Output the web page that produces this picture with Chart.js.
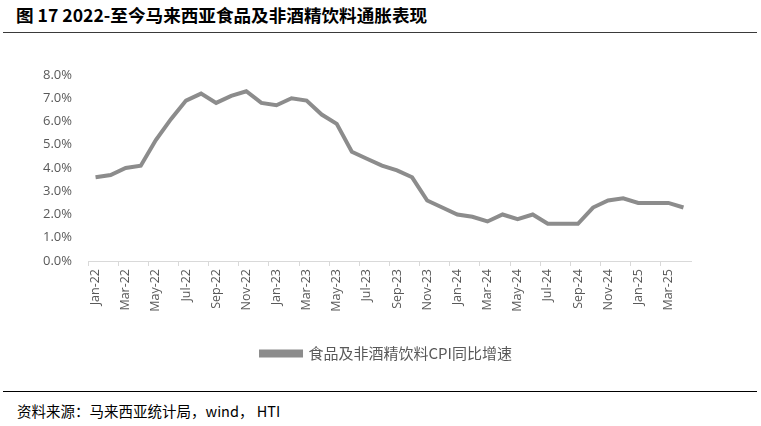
<!DOCTYPE html>
<html lang="zh">
<head>
<meta charset="UTF-8">
<title>图 17 马来西亚食品及非酒精饮料通胀表现</title>
<script src="https://cdn.jsdelivr.net/npm/chart.js"></script>
<style>
    body { margin: 0; background: #fff; width: 761px; height: 426px; overflow: hidden; position: relative; }
    .titulo { position: absolute; left: 16px; top: 2px; font: bold 17.6px "Noto Sans CJK SC", sans-serif; color: #000; }
    .linha-top { position: absolute; left: 3px; width: 754px; top: 32px; height: 0; border-top: 1.5px solid #3a3a3a; }
    .linha-bottom { position: absolute; left: 3px; width: 754px; top: 391px; height: 0; border-top: 1px solid #000; }
    .fonte { position: absolute; left: 17px; top: 400px; font: 14.5px "Noto Sans CJK SC", sans-serif; color: #000; }
    .grafico-box { position: absolute; left: 0; top: 40px; width: 761px; height: 340px; }
</style>
</head>
<body>
    <div class="titulo">图 17 2022-至今马来西亚食品及非酒精饮料通胀表现</div>
    <div class="linha-top"></div>
    <div class="grafico-box"><canvas id="grafico" width="761" height="340"></canvas></div>
    <div class="linha-bottom"></div>
    <div class="fonte">资料来源：马来西亚统计局，wind， HTI</div>
</body>
</html>
<script>
    // meses Jan-22 .. Apr-25
    const months = [
        "Jan-22", "Feb-22", "Mar-22", "Apr-22", "May-22", "Jun-22", "Jul-22", "Aug-22", "Sep-22", "Oct-22", "Nov-22", "Dec-22",
        "Jan-23", "Feb-23", "Mar-23", "Apr-23", "May-23", "Jun-23", "Jul-23", "Aug-23", "Sep-23", "Oct-23", "Nov-23", "Dec-23",
        "Jan-24", "Feb-24", "Mar-24", "Apr-24", "May-24", "Jun-24", "Jul-24", "Aug-24", "Sep-24", "Oct-24", "Nov-24", "Dec-24",
        "Jan-25", "Feb-25", "Mar-25", "Apr-25"
    ];
    const cpiFood = [
        3.6, 3.7, 4.0, 4.1, 5.2, 6.1, 6.9, 7.2, 6.8, 7.1, 7.3, 6.8,
        6.7, 7.0, 6.9, 6.3, 5.9, 4.7, 4.4, 4.1, 3.9, 3.6, 2.6, 2.3,
        2.0, 1.9, 1.7, 2.0, 1.8, 2.0, 1.6, 1.6, 1.6, 2.3, 2.6, 2.7,
        2.5, 2.5, 2.5, 2.3
    ];
    const serieNome = "食品及非酒精饮料CPI同比增速";
    const yMin = 0, yMax = 8, yStep = 1;

    const cinza = "#8c8c8c";
    const texto = "#595959";

    const ctx = document.getElementById("grafico").getContext("2d");

    // empurra a legenda p/ direita (no original ela fica centrada na pagina)
    const deslocaLegenda = {
        id: "deslocaLegenda",
        afterLayout(chart) {
            chart.legend.left += 41;
            chart.legend.right += 41;
        }
    };

    new Chart(ctx, {
        type: "line",
        data: {
            labels: months,
            datasets: [{
                label: serieNome,
                data: cpiFood,
                borderColor: cinza,
                backgroundColor: cinza,
                borderWidth: 4,
                pointRadius: 0,
                tension: 0
            }]
        },
        options: {
            responsive: false,
            animation: false,
            layout: { padding: { top: 35, right: 70, bottom: 9, left: 0 } },
            scales: {
                x: {
                    offset: true,
                    grid: {
                        offset: true,
                        drawOnChartArea: false,
                        tickLength: 5,
                        tickColor: c => c.index % 2 === 0 ? "#d9d9d9" : "rgba(0,0,0,0)",
                        color: c => c.index % 2 === 0 ? "#d9d9d9" : "rgba(0,0,0,0)"
                    },
                    border: { color: "#d9d9d9", width: 1 },
                    ticks: {
                        autoSkip: false,
                        maxRotation: 90,
                        minRotation: 90,
                        padding: 3,
                        color: texto,
                        font: { family: "'Open Sans'", size: 12.5 },
                        callback: (v, i) => i % 2 === 0 ? months[i] : ""
                    },
                    afterFit: s => { s.height = 75; }
                },
                y: {
                    min: yMin,
                    max: yMax,
                    grid: { display: false },
                    border: { display: false },
                    ticks: {
                        stepSize: yStep,
                        padding: 8,
                        color: texto,
                        font: { family: "'Open Sans'", size: 13 },
                        callback: v => v.toFixed(1) + "%"
                    },
                    afterFit: s => { s.width = 88; }
                }
            },
            plugins: {
                legend: {
                    position: "bottom",
                    labels: {
                        boxWidth: 40,
                        boxHeight: 4,
                        padding: 10,
                        color: texto,
                        font: { family: "'Noto Sans CJK SC'", size: 15 }
                    }
                },
                tooltip: { enabled: false }
            }
        },
        plugins: [deslocaLegenda]
    });
</script>
